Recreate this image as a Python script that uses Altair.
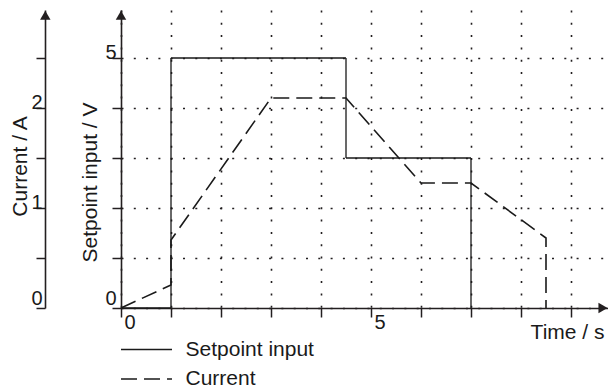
import altair as alt
import pandas as pd

# ---- data ----
series = ["Setpoint input", "Current"]

sp_t = [0, 1, 1, 4.5, 4.5, 7, 7]
sp_v = [0, 0, 5, 5, 3, 3, 0]

cur_t = [0, 1, 1, 3, 4.5, 6, 7, 8.5, 8.5]
cur_a = [0, 0.23, 0.68, 2.1, 2.1, 1.25, 1.25, 0.7, 0]

x_ticks = [0, 1, 2, 3, 4, 5, 6, 7, 8, 9]
v_ticks = [0, 1, 2, 3, 4, 5]
a_ticks = [0, 0.5, 1, 1.5, 2, 2.5]

X_DOM = [0, 9.74]
V_DOM = [0, 5.96]
A_DOM = [0, 2.98]

INK = "#231f20"
FONT = "Liberation Sans"

sp_df = pd.DataFrame({"t": sp_t, "v": sp_v, "series": series[0], "i": range(len(sp_t))})
cur_df = pd.DataFrame({"t": cur_t, "a": cur_a, "series": series[1], "i": range(len(cur_t))})

# axis arrow heads (decoration at the axis ends)
up_df = pd.DataFrame({"t": [0, -1.514], "v": [5.855, 5.855]})
right_df = pd.DataFrame({"t": [9.64], "v": [0]})

x_enc = alt.X(
    "t:Q",
    scale=alt.Scale(domain=X_DOM, nice=False, zero=False),
    axis=alt.Axis(
        values=x_ticks, title="Time / s", grid=True,
        gridDash=[2, 10.3], gridColor=INK, gridWidth=1.6, gridCap="butt",
        labelExpr="datum.value % 5 == 0 ? datum.label : ''",
        labelAlign="left", labelOffset=3, labelBaseline="top", labelPadding=-5,
        tickSize=9, tickWidth=1.5, domainWidth=1.6,
        titleX=483, titleY=30, titleAlign="right", titleBaseline="alphabetic",
    ),
)

dash_scale = alt.Scale(domain=series, range=[[1, 0], [16, 7]])
legend = alt.Legend(
    orient="none", legendX=12, legendY=326, title=None,
    symbolType="M-2,0H2", symbolSize=650, symbolStrokeWidth=1.5,
    symbolStrokeColor="#1a1a1a", symbolOffset=0,
    labelFontSize=21, labelFont=FONT, labelColor="#1a1a1a", labelOffset=25.5,
    rowPadding=5.5, padding=0, labelBaseline="middle",
)

sp = alt.Chart(sp_df).mark_line(color="#1a1a1a", strokeWidth=1.3).encode(
    x=x_enc,
    y=alt.Y(
        "v:Q",
        scale=alt.Scale(domain=V_DOM, nice=False),
        axis=alt.Axis(
            orient="left", values=v_ticks, grid=True,
            gridDash=[2, 10.3], gridColor=INK, gridWidth=1.6, gridCap="butt",
            labelExpr="datum.value % 5 == 0 ? datum.label : ''",
            labelAlign="right", labelPadding=-4,
            labelBaseline={"condition": {"test": "datum.value == 0", "value": "bottom"}, "value": "alphabetic"},
            tickSize=9, tickWidth=1.5, domainWidth=1.6,
            title="Setpoint input / V", titleAngle=270, titleX=-25, titleY=172,
            titleAlign="center", titleBaseline="alphabetic",
        ),
    ),
    strokeDash=alt.StrokeDash("series:N", scale=dash_scale, legend=legend),
    order="i:Q",
)

cur = alt.Chart(cur_df).mark_line(color="#1a1a1a", strokeWidth=1.6).encode(
    x=x_enc,
    y=alt.Y(
        "a:Q",
        scale=alt.Scale(domain=A_DOM, nice=False),
        axis=alt.Axis(
            orient="left", offset=76, values=a_ticks, grid=False,
            labelExpr="datum.value % 1 == 0 ? format(datum.value, 'd') : ''",
            labelAlign="right", labelPadding=-6,
            labelBaseline={"condition": {"test": "datum.value == 0", "value": "bottom"}, "value": "alphabetic"},
            tickSize=9, tickWidth=1.5, domainWidth=1.6,
            title="Current / A", titleAngle=270, titleX=-19, titleY=156,
            titleAlign="center", titleBaseline="alphabetic",
        ),
    ),
    strokeDash=alt.StrokeDash("series:N", scale=dash_scale, legend=legend),
    order="i:Q",
)

arr_y = alt.Y("v:Q", scale=alt.Scale(domain=V_DOM, nice=False), axis=None)
up = alt.Chart(up_df).mark_point(shape="triangle-up", filled=True, size=110, color=INK, opacity=1).encode(
    x="t:Q", y=arr_y
)
right = alt.Chart(right_df).mark_point(shape="triangle-right", filled=True, size=110, color=INK, opacity=1).encode(
    x="t:Q", y=arr_y
)

chart = (
    alt.layer(sp, cur, up, right)
    .resolve_scale(y="independent")
    .properties(
        width=487, height=298,
        autosize=alt.AutoSizeParams(type="none"),
        padding={"left": 113, "top": 2, "right": 0, "bottom": 84},
    )
    .configure_view(stroke=None)
    .configure_axis(
        labelFont=FONT, titleFont=FONT, labelFontSize=20, titleFontSize=21,
        titleFontWeight="normal", labelColor="#1a1a1a", titleColor="#1a1a1a",
        domainColor=INK, tickColor=INK,
    )
)

chart.save("out.html", embed_options={"renderer": "svg", "actions": False})
